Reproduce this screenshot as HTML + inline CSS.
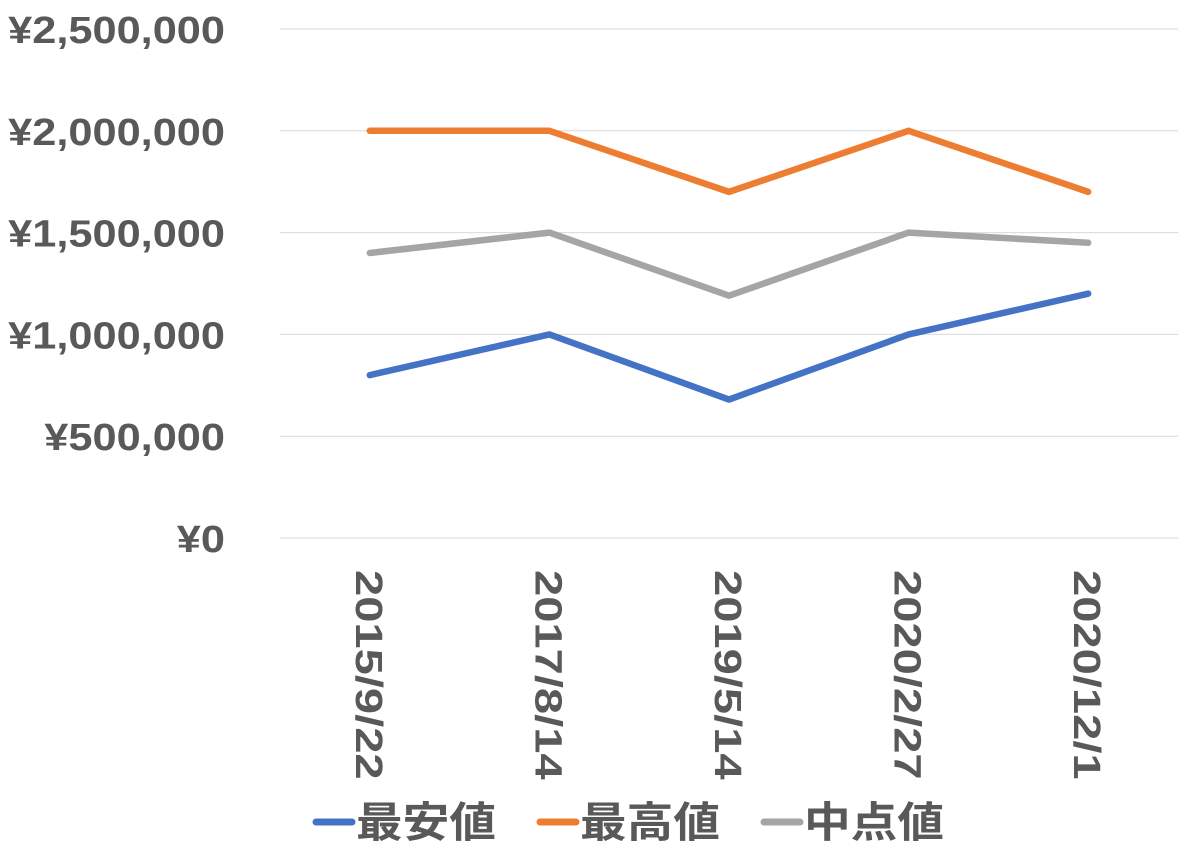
<!DOCTYPE html>
<html><head><meta charset="utf-8"><style>
body{margin:0;background:#fff;}
svg text{font-family:"Liberation Sans","Noto Sans CJK JP",sans-serif;font-weight:bold;fill:#595959;}
</style></head><body>
<svg id="chart" width="1186" height="848" xmlns="http://www.w3.org/2000/svg">
<g id="grid"></g><g id="ylab"></g><g id="xlab"></g><g id="lines"></g>
<g>
<g><line x1="316" y1="822" x2="352" y2="822" stroke="#4472C4" stroke-width="7" stroke-linecap="round"/><text class="lg" x="356" y="837" font-size="42" textLength="140" lengthAdjust="spacingAndGlyphs">最安値</text></g>
<g><line x1="540" y1="822" x2="576" y2="822" stroke="#ED7D31" stroke-width="7" stroke-linecap="round"/><text class="lg" x="580" y="837" font-size="42" textLength="140" lengthAdjust="spacingAndGlyphs">最高値</text></g>
<g><line x1="764" y1="822" x2="800" y2="822" stroke="#A5A5A5" stroke-width="7" stroke-linecap="round"/><text class="lg" x="804" y="837" font-size="42" textLength="140" lengthAdjust="spacingAndGlyphs">中点値</text></g>
</g>
</svg>
<script>
const categories=["2015/9/22","2017/8/14","2019/5/14","2020/2/27","2020/12/1"];
const minValues=[800000,1000000,680000,1000000,1200000];
const maxValues=[2000000,2000000,1700000,2000000,1700000];
const midValues=[1400000,1500000,1190000,1500000,1450000];
const yTicks=[0,500000,1000000,1500000,2000000,2500000];
const yTickLabels=["¥0","¥500,000","¥1,000,000","¥1,500,000","¥2,000,000","¥2,500,000"];
const NS="http://www.w3.org/2000/svg";
const x0=280,x1=1178,y0=538,yTop=29,yMax=2500000;
const yS=v=>y0-(v/yMax)*(y0-yTop);
const xS=i=>x0+(x1-x0)/categories.length*(i+0.5);
function mk(t,a,p){const e=document.createElementNS(NS,t);for(const k in a)e.setAttribute(k,a[k]);p.appendChild(e);return e;}
const g=document.getElementById('grid'),yl=document.getElementById('ylab'),xl=document.getElementById('xlab'),ln=document.getElementById('lines');
yTicks.forEach((v,i)=>{
 const l=mk('line',{x1:x0,x2:x1,y1:yS(v),y2:yS(v),stroke:'#D9D9D9','stroke-width':1},g);
 
 
 const t=mk('text',{x:225,y:yS(v)+14,'text-anchor':'end','font-size':38},yl);
 t.textContent=yTickLabels[i];
 
 
 const w=t.getComputedTextLength();
 t.setAttribute('textLength',w*1.14);
 t.setAttribute('lengthAdjust','spacingAndGlyphs');
});
categories.forEach((c,i)=>{
 const x=xS(i);
 const t=mk('text',{x:0,y:0,transform:`translate(${x-14},570) rotate(90)`,'font-size':38},xl);
 t.textContent=c;
 
 
 const w=t.getComputedTextLength();
 t.setAttribute('textLength',w*1.24);
 t.setAttribute('lengthAdjust','spacingAndGlyphs');
});
[[minValues,'#4472C4','series-min-line'],[maxValues,'#ED7D31','series-max-line'],[midValues,'#A5A5A5','series-mid-line']].forEach(([d,col,n])=>{
 const p=mk('polyline',{points:d.map((v,i)=>xS(i)+','+yS(v)).join(' '),fill:'none',stroke:col,'stroke-width':6.5,'stroke-linejoin':'round','stroke-linecap':'round'},ln);
 
 
});
</script>
</body></html>
